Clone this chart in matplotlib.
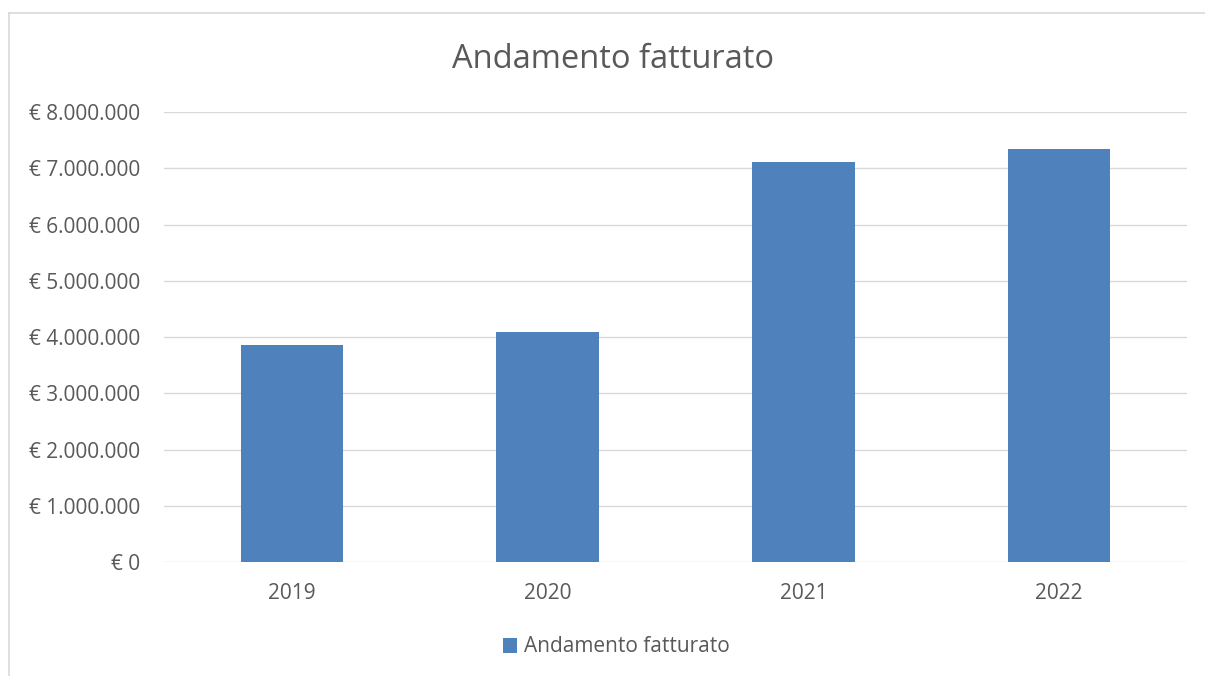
import matplotlib
matplotlib.use("Agg")
import matplotlib.pyplot as plt
from matplotlib.lines import Line2D
from matplotlib.ticker import FuncFormatter, MultipleLocator

years = ["2019", "2020", "2021", "2022"]
fatturato = [3855000, 4097000, 7110000, 7350000]
series_name = "Andamento fatturato"
title = "Andamento fatturato"

plt.rcParams['font.family'] = ['Open Sans', 'DejaVu Sans']

W, H = 1205, 676
fig = plt.figure(figsize=(W / 100, H / 100), dpi=100)
ax = fig.add_axes([164 / W, 1 - 562.3 / H, (1187 - 164) / W, (562.3 - 112) / H])

bars = ax.bar(range(len(years)), fatturato, width=0.4, color="#4F81BD",
              label=series_name, zorder=3)
ax.set_xlim(-0.5, len(years) - 0.5)
ax.set_ylim(0, 8000000)
ax.yaxis.set_major_locator(MultipleLocator(1000000))

def eur(v, pos):
    s = f"{int(round(v)):,}".replace(",", ".")
    return f"€ {s}"

ax.yaxis.set_major_formatter(FuncFormatter(eur))
ax.set_xticks(range(len(years)))
ax.set_xticklabels(years)

ax.grid(axis="y", color="#d9d9d9", linewidth=1.0, zorder=0)
for s in ax.spines.values():
    s.set_visible(False)
ax.tick_params(axis="both", length=0, colors="#595959", labelsize=15)
ax.tick_params(axis="y", pad=17)
ax.tick_params(axis="x", pad=15)

fig.text(613 / W, 1 - 60 / H, title, ha="center", va="center",
         fontsize=23.5, color="#595959")

leg = fig.legend(handles=[bars], labels=[series_name], loc="center",
                 bbox_to_anchor=(616 / W, 1 - 647 / H), frameon=False,
                 fontsize=15, handlelength=0.7, handleheight=0.7,
                 handletextpad=0.3)
for t in leg.get_texts():
    t.set_color("#595959")

# chart area border (left and top visible)
fig.add_artist(Line2D([9 / W, 9 / W], [0, 1 - 13 / H], transform=fig.transFigure,
                      color="#d9d9d9", linewidth=1.2))
fig.add_artist(Line2D([9 / W, 1], [1 - 13 / H, 1 - 13 / H], transform=fig.transFigure,
                      color="#d9d9d9", linewidth=1.2))

fig.savefig("out.png", dpi=100, facecolor="white")
